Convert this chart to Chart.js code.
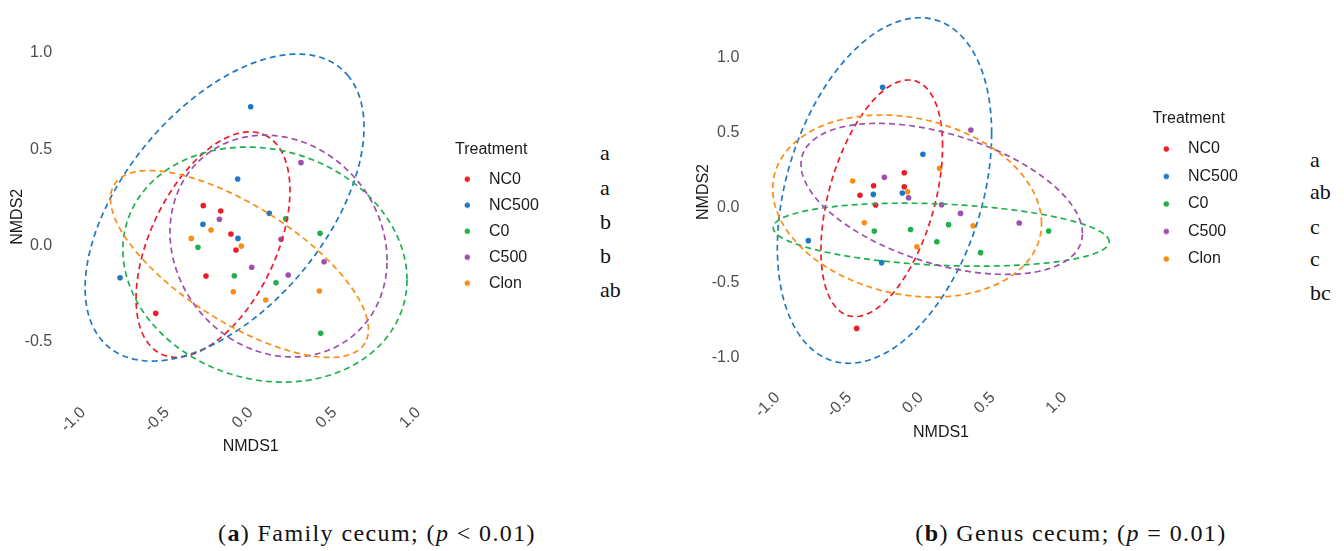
<!DOCTYPE html>
<html>
<head>
<meta charset="utf-8">
<title>NMDS cecum</title>
<script src="https://cdn.jsdelivr.net/npm/chart.js@4.4.0/dist/chart.umd.min.js"></script>
<style>
  body { margin: 0; background: #fff; width: 1344px; height: 551px; position: relative; overflow: hidden; font-family: "Liberation Sans", Arial, sans-serif; }
  canvas { position: absolute; top: 0; }
  .letter { position: absolute; font-family: "Liberation Serif", serif; font-size: 22px; color: #111; transform: translateY(-50%); }
  .caption { position: absolute; font-family: "Liberation Serif", serif; font-size: 24px; letter-spacing: 1.4px; color: #111; transform: translate(-50%, -50%); white-space: nowrap; }
</style>
</head>
<body>
<canvas id="familyChart" width="546" height="470" style="left:0px"></canvas>
<canvas id="genusChart" width="555" height="470" style="left:690px"></canvas>
<div id="letters"></div>
<div class="caption" style="left:377px; top:533px">(<b>a</b>) Family cecum; (<i>p</i> &lt; 0.01)</div>
<div class="caption" style="left:1071px; top:533px">(<b>b</b>) Genus cecum; (<i>p</i> = 0.01)</div>

<script>
// treatments and colours
const treatments = ['NC0', 'NC500', 'C0', 'C500', 'Clon'];
const treatmentColors = ['#EE1C25', '#1F78C1', '#20B04B', '#9E4FAE', '#FB8C15'];
const nmds1Ticks = [-1.0, -0.5, 0.0, 0.5, 1.0];

// (a) family level, one row per treatment
const familyNMDS1 = [
  [-0.283, -0.179, -0.118, -0.088, -0.267, -0.567],
  [0.000, -0.078, 0.111, -0.285, -0.076, -0.780],
  [0.209, 0.414, -0.315, -0.098, 0.151, 0.418],
  [0.300, -0.187, 0.181, 0.006, 0.438, 0.224],
  [-0.237, -0.355, -0.056, -0.104, 0.410, 0.090]
];
const familyNMDS2 = [
  [0.208, 0.180, 0.061, -0.022, -0.157, -0.351],
  [0.721, 0.346, 0.168, 0.111, 0.038, -0.166],
  [0.139, 0.064, -0.008, -0.156, -0.192, -0.455],
  [0.431, 0.137, 0.033, -0.112, -0.083, -0.152],
  [0.081, 0.038, -0.002, -0.239, -0.235, -0.282]
];
// ellipses: centre and two conjugate semi-axes (NMDS units)
const familyEllipseCx = [-0.225, -0.156, 0.085, 0.166, -0.067];
const familyEllipseCy = [0.006, 0.198, -0.098, -0.002, -0.095];
const familyEllipseU = [[0.310, 0.568], [0.734, 0.688], [0.848, -0.078], [0.648, -0.073], [0.749, -0.410]];
const familyEllipseV = [[0.339, -0.140], [0.393, -0.402], [0, 0.605], [0, 0.571], [-0.179, -0.259]];
const familyNMDS2Ticks = [-0.5, 0.0, 0.5, 1.0];
const familyLetters = ['a', 'a', 'b', 'b', 'ab'];

// (b) genus level
const genusNMDS1 = [
  [-0.116, -0.116, -0.330, -0.425, -0.316, -0.448],
  [-0.267, 0.014, -0.332, -0.130, -0.785, -0.274],
  [-0.325, -0.072, 0.193, 0.111, 0.416, 0.890],
  [0.348, -0.255, -0.086, 0.144, 0.276, 0.685],
  [-0.476, 0.130, -0.093, -0.395, 0.364, -0.028]
];
const genusNMDS2 = [
  [0.234, 0.140, 0.147, 0.083, 0.018, -0.806],
  [0.804, 0.357, 0.089, 0.098, -0.220, -0.367],
  [-0.156, -0.145, -0.113, -0.227, -0.300, -0.156],
  [0.519, 0.203, 0.067, 0.020, -0.038, -0.102],
  [0.178, 0.263, 0.107, -0.100, -0.120, -0.261]
];
const genusEllipseCx = [-0.273, -0.254, 0.141, 0.145, -0.096];
const genusEllipseCy = [0.063, 0.115, -0.180, 0.059, 0.011];
const genusEllipseU = [[0.424, 0.347], [0.747, 0.382], [1.171, -0.047], [0.981, -0.230], [0.937, -0.116]];
const genusEllipseV = [[0, 0.710], [0, 1.089], [0, 0.205], [0, 0.449], [0, 0.597]];
const genusNMDS2Ticks = [-1.0, -0.5, 0.0, 0.5, 1.0];
const genusLetters = ['a', 'ab', 'c', 'c', 'bc'];

/**
 * Dashed ellipse per treatment, drawn through the chart scales
 */
const ellipsePlugin = {
  id: 'nmdsEllipses',
  afterDatasetsDraw(chart, args, opts) {
    const ctx = chart.ctx;
    const xs = chart.scales.x;
    const ys = chart.scales.y;
    ctx.save();
    ctx.lineWidth = 1.7;
    ctx.setLineDash([6, 4]);
    opts.cx.forEach((cx, i) => {
      const cy = opts.cy[i];
      const u = opts.u[i];
      const v = opts.v[i];
      ctx.beginPath();
      for (let k = 0; k <= 200; k++) {
        const t = k / 200 * Math.PI * 2;
        const px = xs.getPixelForValue(cx + u[0] * Math.cos(t) + v[0] * Math.sin(t));
        const py = ys.getPixelForValue(cy + u[1] * Math.cos(t) + v[1] * Math.sin(t));
        if (k === 0) ctx.moveTo(px, py); else ctx.lineTo(px, py);
      }
      ctx.closePath();
      ctx.strokeStyle = treatmentColors[i];
      ctx.stroke();
    });
    ctx.restore();
  }
};

// small dot images for the legend (dot sits left of the image centre)
function legendDot(color) {
  const c = document.createElement('canvas');
  c.width = 18;
  c.height = 8;
  const g = c.getContext('2d');
  g.fillStyle = color;
  g.beginPath();
  g.arc(3.3, 4, 2.7, 0, Math.PI * 2);
  g.fill();
  return c;
}
const legendDots = treatmentColors.map(legendDot);

function buildChart(canvasId, nmds1, nmds2, ellipse, yTicks, box) {
  const datasets = treatments.map((name, i) => ({
    label: name,
    data: nmds1[i].map((x, j) => ({ x: x, y: nmds2[i][j] })),
    backgroundColor: treatmentColors[i],
    borderColor: treatmentColors[i],
    pointRadius: 2.8,
    pointHoverRadius: 2.8,
    pointBorderWidth: 0
  }));

  return new Chart(document.getElementById(canvasId), {
    type: 'scatter',
    data: { datasets: datasets },
    plugins: [ellipsePlugin],
    options: {
      responsive: false,
      animation: false,
      layout: { padding: { top: box.padTop, bottom: box.padBottom, left: 0, right: 0 } },
      scales: {
        x: {
          type: 'linear',
          min: box.xMin,
          max: box.xMax,
          afterBuildTicks: s => { s.ticks = nmds1Ticks.map(v => ({ value: v })); },
          afterFit: s => { s.height = 70; s.paddingLeft = 0; s.paddingRight = 0; },
          grid: { display: false },
          border: { display: false },
          ticks: {
            autoSkip: false,
            minRotation: 45,
            maxRotation: 45,
            padding: 5,
            color: '#4d4d4d',
            font: { size: 16 },
            callback: v => Number(v).toFixed(1)
          },
          title: { display: true, text: 'NMDS1', color: '#1a1a1a', font: { size: 16 }, padding: { top: 0, bottom: box.xTitlePad } }
        },
        y: {
          type: 'linear',
          min: box.yMin,
          max: box.yMax,
          afterBuildTicks: s => { s.ticks = yTicks.map(v => ({ value: v })); },
          afterFit: s => { s.width = box.yWidth; s.paddingTop = 0; s.paddingBottom = 0; },
          grid: { display: false },
          border: { display: false },
          ticks: {
            padding: 23,
            color: '#4d4d4d',
            font: { size: 16 },
            callback: v => Number(v).toFixed(1)
          },
          title: { display: true, text: 'NMDS2', color: '#1a1a1a', font: { size: 16 }, padding: { top: box.yTitlePad, bottom: 0 } }
        },
        // empty spacer between plot and legend
        gap: {
          type: 'linear',
          position: 'right',
          display: true,
          grid: { display: false },
          border: { display: false },
          ticks: { display: false },
          afterFit: s => { s.width = box.gap; s.paddingTop = 0; s.paddingBottom = 0; }
        }
      },
      plugins: {
        tooltip: { enabled: false },
        legend: {
          position: 'right',
          align: 'start',
          title: {
            display: true,
            text: 'Treatment',
            position: 'start',
            color: '#1a1a1a',
            font: { size: 16 },
            padding: { top: box.legendTitleTop, bottom: 0 }
          },
          labels: {
            usePointStyle: true,
            pointStyleWidth: 16,
            padding: box.legendPad,
            color: '#1a1a1a',
            font: { size: 16 },
            generateLabels(chart) {
              const items = Chart.defaults.plugins.legend.labels.generateLabels(chart);
              items.forEach((item, i) => { item.pointStyle = legendDots[i]; });
              return items;
            }
          }
        },
        nmdsEllipses: ellipse
      }
    }
  });
}

buildChart('familyChart', familyNMDS1, familyNMDS2,
  { cx: familyEllipseCx, cy: familyEllipseCy, u: familyEllipseU, v: familyEllipseV },
  familyNMDS2Ticks,
  { padTop: 43.4, padBottom: 9.8, xMin: -1.0, xMax: 1.0, yMin: -0.75, yMax: 1.05,
    yWidth: 83.2, yTitlePad: 8.4, xTitlePad: 3.9, legendTitleTop: 98.6, legendPad: 10, gap: 36.8 });

buildChart('genusChart', genusNMDS1, genusNMDS2,
  { cx: genusEllipseCx, cy: genusEllipseCy, u: genusEllipseU, v: genusEllipseV },
  genusNMDS2Ticks,
  { padTop: 8.6, padBottom: 24.6, xMin: -1.05, xMax: 1.33, yMin: -1.12, yMax: 1.33,
    yWidth: 80.3, yTitlePad: 4.4, xTitlePad: 3.5, legendTitleTop: 101.7, legendPad: 11.5, gap: 40.8 });

// significance letters next to the legends
function placeLetters(letters, left, tops) {
  const holder = document.getElementById('letters');
  letters.forEach((txt, i) => {
    const d = document.createElement('div');
    d.className = 'letter';
    d.style.left = left + 'px';
    d.style.top = tops[i] + 'px';
    d.textContent = txt;
    holder.appendChild(d);
  });
}
placeLetters(familyLetters, 600, [153, 188, 222, 256, 290]);
placeLetters(genusLetters, 1310, [160, 192, 227, 259, 293]);
</script>
</body>
</html>
